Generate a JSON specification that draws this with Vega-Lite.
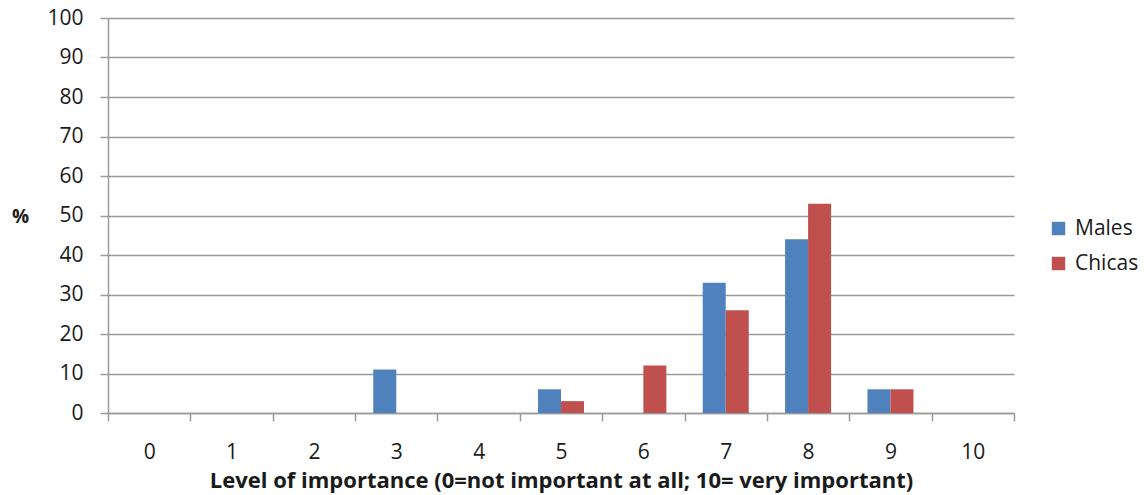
{
  "$schema": "https://vega.github.io/schema/vega-lite/v6.json",
  "autosize": {"type": "none"},
  "padding": {"left": 108, "top": 18, "right": 134, "bottom": 82},
  "width": 906,
  "height": 395,
  "background": "white",
  "config": {
    "view": {"stroke": null},
    "font": "Open Sans",
    "axis": {"labelFont": "Open Sans", "titleFont": "Open Sans"},
    "legend": {"labelFont": "Open Sans"}
  },
  "data": {
    "values": [
      {"level": 0, "group": "Males", "value": 0},
      {"level": 0, "group": "Chicas", "value": 0},
      {"level": 1, "group": "Males", "value": 0},
      {"level": 1, "group": "Chicas", "value": 0},
      {"level": 2, "group": "Males", "value": 0},
      {"level": 2, "group": "Chicas", "value": 0},
      {"level": 3, "group": "Males", "value": 11},
      {"level": 3, "group": "Chicas", "value": 0},
      {"level": 4, "group": "Males", "value": 0},
      {"level": 4, "group": "Chicas", "value": 0},
      {"level": 5, "group": "Males", "value": 6},
      {"level": 5, "group": "Chicas", "value": 3},
      {"level": 6, "group": "Males", "value": 0},
      {"level": 6, "group": "Chicas", "value": 12},
      {"level": 7, "group": "Males", "value": 33},
      {"level": 7, "group": "Chicas", "value": 26},
      {"level": 8, "group": "Males", "value": 44},
      {"level": 8, "group": "Chicas", "value": 53},
      {"level": 9, "group": "Males", "value": 6},
      {"level": 9, "group": "Chicas", "value": 6},
      {"level": 10, "group": "Males", "value": 0},
      {"level": 10, "group": "Chicas", "value": 0}
    ]
  },
  "mark": {"type": "bar"},
  "encoding": {
    "x": {
      "field": "level",
      "type": "ordinal",
      "scale": {"paddingInner": 0, "paddingOuter": 0},
      "axis": {
        "title": "Level of importance (0=not important at all; 10= very important)",
        "labelAngle": 0,
        "labelFontSize": 21,
        "labelColor": "#1a1a1a",
        "labelPadding": 20,
        "tickBand": "extent",
        "tickSize": 8,
        "tickColor": "#9a9a9a",
        "tickWidth": 1.5,
        "domainColor": "#9a9a9a",
        "domainWidth": 1.5,
        "grid": false,
        "titleFontSize": 22,
        "titleFontWeight": "bold",
        "titleColor": "#1a1a1a",
        "titlePadding": 8
      }
    },
    "xOffset": {
      "field": "group",
      "type": "nominal",
      "scale": {"domain": ["Males", "Chicas"], "paddingInner": 0, "paddingOuter": 0.79}
    },
    "y": {
      "field": "value",
      "type": "quantitative",
      "scale": {"domain": [0, 100], "nice": false},
      "axis": {
        "title": "%",
        "titleAngle": 0,
        "titleX": -88,
        "titleY": 198,
        "titleAlign": "center",
        "titleBaseline": "middle",
        "titleFontSize": 19,
        "titleFontWeight": "bold",
        "titleColor": "#1a1a1a",
        "values": [0, 10, 20, 30, 40, 50, 60, 70, 80, 90, 100],
        "labelFontSize": 21,
        "labelColor": "#1a1a1a",
        "labelPadding": 17,
        "tickSize": 8,
        "tickColor": "#9a9a9a",
        "tickWidth": 1.5,
        "domainColor": "#9a9a9a",
        "domainWidth": 1.5,
        "gridColor": "#9a9a9a",
        "gridWidth": 1.5
      }
    },
    "color": {
      "field": "group",
      "type": "nominal",
      "scale": {"domain": ["Males", "Chicas"], "range": ["#4F81BD", "#C0504D"]},
      "legend": {
        "title": null,
        "orient": "none",
        "legendX": 940,
        "legendY": 200,
        "symbolType": "square",
        "symbolSize": 180,
        "symbolStrokeWidth": 0,
        "labelFontSize": 21,
        "labelColor": "#1a1a1a",
        "rowPadding": 13,
        "labelOffset": 6
      }
    }
  }
}
